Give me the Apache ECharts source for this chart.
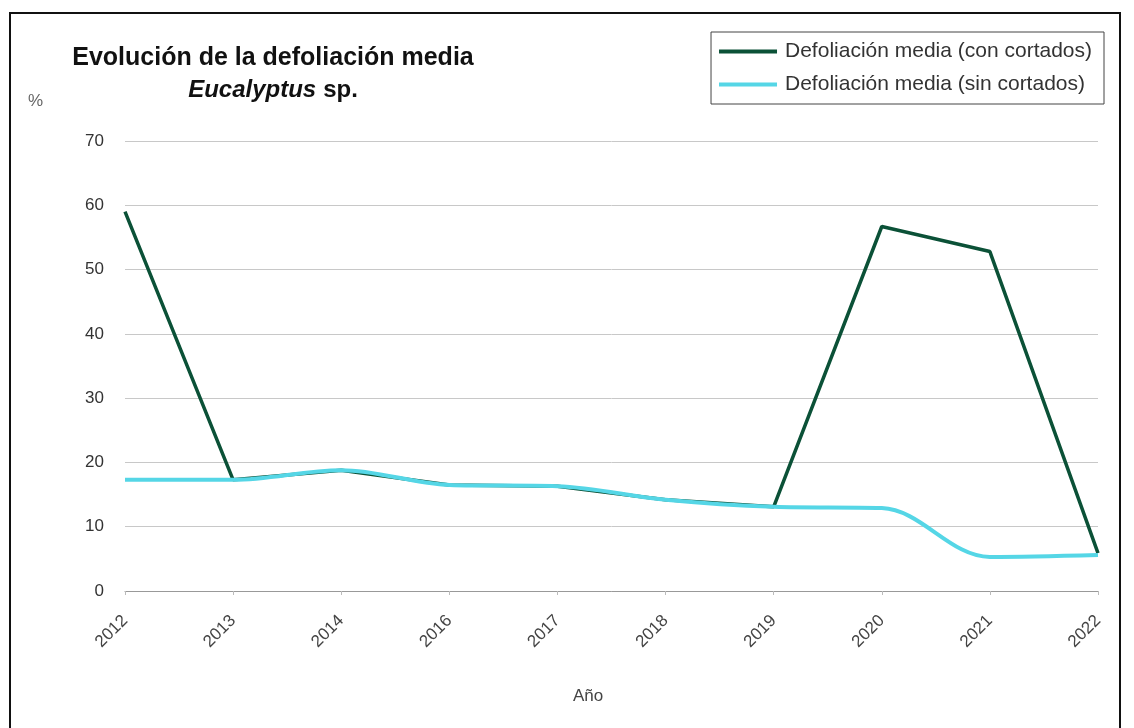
<!DOCTYPE html>
<html>
<head>
<meta charset="utf-8">
<script src="https://cdn.jsdelivr.net/npm/echarts@6/dist/echarts.min.js"></script>
<style>
  html, body { margin: 0; padding: 0; background: #fff; }
  #frame { position: absolute; left: 9px; top: 12px; width: 1112px; height: 730px; border: 2px solid #111; box-sizing: border-box; }
  #chart { position: absolute; left: 0; top: 0; width: 1134px; height: 728px; }
</style>
</head>
<body>
<div id="frame"></div>
<div id="chart"></div>
<script>
// Survey years (2015 not sampled)
const years = ['2012', '2013', '2014', '2016', '2017', '2018', '2019', '2020', '2021', '2022'];
// Mean defoliation (%) including felled trees
const conCortados = [59.0, 17.3, 18.8, 16.5, 16.3, 14.2, 13.1, 56.7, 52.8, 5.9];
// Mean defoliation (%) excluding felled trees
const sinCortados = [17.3, 17.3, 18.8, 16.5, 16.3, 14.2, 13.1, 12.9, 5.3, 5.6];
const yTicks = { min: 0, max: 70, interval: 10 };

const chart = echarts.init(document.getElementById('chart'), null, { renderer: 'canvas' });
const font = '"Liberation Sans", Arial, sans-serif';

chart.setOption({
  backgroundColor: 'transparent',
  animation: false,
  textStyle: { fontFamily: font },
  title: {
    left: 268, top: 37, textAlign: 'center',
    text: 'Evolución de la defoliación media\n{it|Eucalyptus} {b|sp.}',
    textStyle: {
      fontFamily: font, fontSize: 25, fontWeight: 'bold', color: '#111', lineHeight: 32,
      rich: {
        it: { fontFamily: font, fontSize: 24, fontWeight: 'bold', fontStyle: 'italic', color: '#111', lineHeight: 32 },
        b: { fontFamily: font, fontSize: 24, fontWeight: 'bold', color: '#111', lineHeight: 32 }
      }
    }
  },
  graphic: [
    {
      type: 'text', left: 28, top: 93,
      style: { text: '%', font: '17px ' + font, fill: '#666' }
    },
    {
      type: 'text', left: 573, top: 688,
      style: { text: 'Año', font: '17px ' + font, fill: '#444' }
    }
  ],
  legend: {
    orient: 'vertical',
    right: 30, top: 32,
    padding: [9, 12, 9, 8],
    itemGap: 12,
    itemWidth: 58, itemHeight: 4,
    borderColor: '#444', borderWidth: 1,
    textStyle: { fontFamily: font, fontSize: 21, color: '#333', padding: [0, 0, 0, 3] },
    data: [
      { name: 'Defoliación media (con cortados)', icon: 'rect' },
      { name: 'Defoliación media (sin cortados)', icon: 'rect' }
    ]
  },
  grid: { left: 125, right: 36, top: 141, bottom: 137, containLabel: false },
  xAxis: {
    type: 'category',
    data: years,
    boundaryGap: false,
    axisLine: { lineStyle: { color: '#999', width: 1 } },
    axisTick: { show: true, length: 4, lineStyle: { color: '#bbb' } },
    axisLabel: { rotate: 45, fontSize: 17, color: '#444', margin: 27, fontFamily: font },
    splitLine: { show: false }
  },
  yAxis: {
    type: 'value',
    min: yTicks.min, max: yTicks.max, interval: yTicks.interval,
    axisLine: { show: false },
    axisTick: { show: false },
    axisLabel: { fontSize: 17, color: '#333', margin: 21, fontFamily: font },
    splitLine: { lineStyle: { color: '#c8c8c8', width: 1 } }
  },
  series: [
    {
      name: 'Defoliación media (con cortados)',
      type: 'line',
      data: conCortados,
      symbol: 'none',
      lineStyle: { color: '#0b5137', width: 3.5 },
      itemStyle: { color: '#0b5137' },
      z: 2
    },
    {
      name: 'Defoliación media (sin cortados)',
      type: 'line',
      data: sinCortados,
      symbol: 'none',
      smooth: 0.35,
      lineStyle: { color: '#55d6e6', width: 4 },
      itemStyle: { color: '#55d6e6' },
      z: 3
    }
  ]
});
</script>
</body>
</html>
